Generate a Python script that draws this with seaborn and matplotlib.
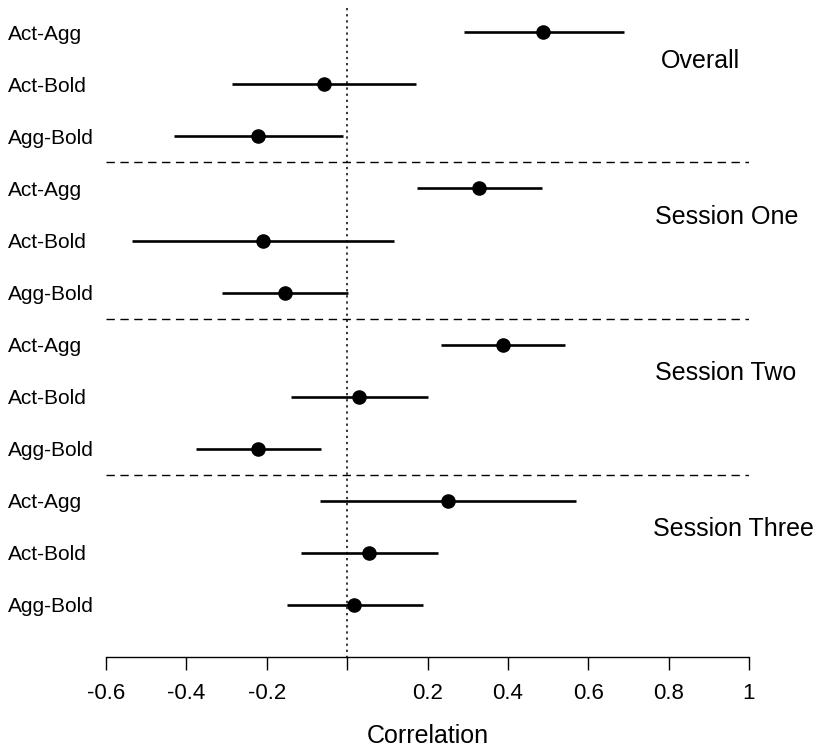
import matplotlib
matplotlib.use("Agg")
import matplotlib.pyplot as plt
import matplotlib.transforms as mtransforms
import numpy as np
import pandas as pd
import seaborn as sns

# correlations with 95% intervals
groups = ["Overall", "Session One", "Session Two", "Session Three"]
pairs = ["Act-Agg", "Act-Bold", "Agg-Bold"]
est = [0.488, -0.057, -0.221,
       0.328, -0.209, -0.154,
       0.388, 0.030, -0.221,
       0.251, 0.055, 0.017]
lower = [0.291, -0.286, -0.430,
         0.174, -0.535, -0.311,
         0.234, -0.139, -0.376,
         -0.067, -0.114, -0.149]
upper = [0.689, 0.172, -0.010,
         0.485, 0.117, 0.002,
         0.542, 0.201, -0.065,
         0.570, 0.226, 0.189]
group_label_x = [0.781, 0.766, 0.766, 0.761]
xticks = [-0.6, -0.4, -0.2, 0, 0.2, 0.4, 0.6, 0.8, 1]
xticklabels = ["-0.6", "-0.4", "-0.2", "", "0.2", "0.4", "0.6", "0.8", "1"]

df = pd.DataFrame({
    "pair": pairs * len(groups),
    "group": np.repeat(groups, len(pairs)),
    "est": est, "lower": lower, "upper": upper,
})
df["row"] = np.arange(len(df))

sns.set_style("white")
plt.rcParams["font.family"] = ["Liberation Sans", "DejaVu Sans"]
plt.rcParams["text.color"] = "black"
plt.rcParams["axes.labelcolor"] = "black"
plt.rcParams["xtick.color"] = "black"

W, H = 817, 749
fig = plt.figure(figsize=(W / 100, H / 100), dpi=100)
ax = fig.add_axes([106 / W, 1 - 657 / H, (749 - 106) / W, 657 / H])

ax.hlines(df["row"], df["lower"], df["upper"], color="black", lw=1.9)
sns.scatterplot(data=df, x="est", y="row", ax=ax, color="black", s=110,
                edgecolor="black", linewidth=0, zorder=3)

# zero reference line
ax.vlines(0, -0.47, 12, color="black", lw=1.1, linestyles=(0, (1.5, 2.5)))
# group separators
for b in [2.5, 5.5, 8.5]:
    ax.hlines(b, -0.6, 1, color="black", lw=1.0, linestyles=(0, (6, 4)))

# pair labels on the left
trans = mtransforms.blended_transform_factory(fig.transFigure, ax.transData)
for r, p in zip(df["row"], df["pair"]):
    ax.text(8 / W, r, p, transform=trans, ha="left", va="center_baseline",
            fontsize=15, clip_on=False)

# group labels on the right
for i, (g, gx) in enumerate(zip(groups, group_label_x)):
    ax.text(gx, 3 * i + 0.5, g, ha="left", va="center_baseline",
            fontsize=18, clip_on=False)

ax.set_xlim(-0.6, 1)
ax.set_ylim(12, -0.62)
ax.set_yticks([])
ax.set_xticks(xticks)
ax.set_xticklabels(xticklabels, fontsize=16)
ax.tick_params(axis="x", direction="out", length=9, width=1, pad=10,
               bottom=True, color="black", labelcolor="black")
ax.set_xlabel("Correlation", fontsize=18, labelpad=14)
ax.set_ylabel("")
for s in ["top", "left", "right"]:
    ax.spines[s].set_visible(False)
ax.spines["bottom"].set_color("black")
ax.spines["bottom"].set_linewidth(1)

fig.savefig("out.png", dpi=100)
